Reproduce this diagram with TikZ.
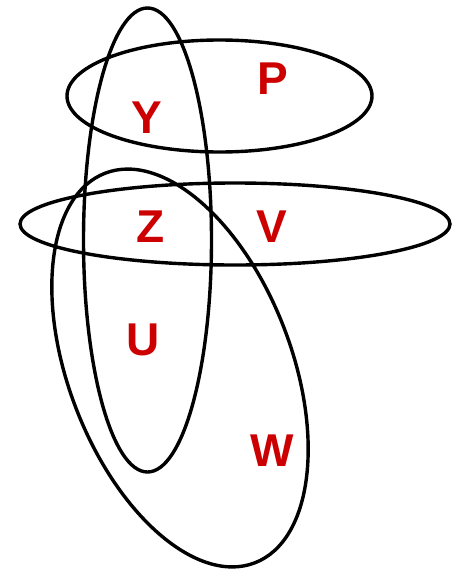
\documentclass[tikz,border=0pt]{standalone}
\usepackage{fontspec}
\setmainfont{Liberation Sans}
\usepackage{tikz}
\definecolor{setred}{HTML}{CC0000}

\begin{document}
\begin{tikzpicture}[x=1pt,y=1pt,line width=3.4pt]
    \useasboundingbox (0,0) rectangle (451,-570);

    \draw (147.5,-240) ellipse (64pt and 232pt);
    \draw (219.5,-96) ellipse (152.5pt and 56pt);
    \draw (235,-224) ellipse (215pt and 41pt);
    \draw[rotate around={-69:(180,-368)}] (180,-368) ellipse (208.7pt and 111.5pt);

    %Labels
    \tikzset{lbl/.style={text=setred,inner sep=0pt,font=\fontsize{46}{50}\selectfont\bfseries}}
    \node[lbl] (p) at (273,-79) {P};
    \node[lbl] (y) at (147,-118) {Y};
    \node[lbl] (z) at (151,-227) {Z};
    \node[lbl] (v) at (272,-227) {V};
    \node[lbl] (u) at (143,-340) {U};
    \node[lbl] (w) at (272,-451) {W};

\end{tikzpicture}
\end{document}
